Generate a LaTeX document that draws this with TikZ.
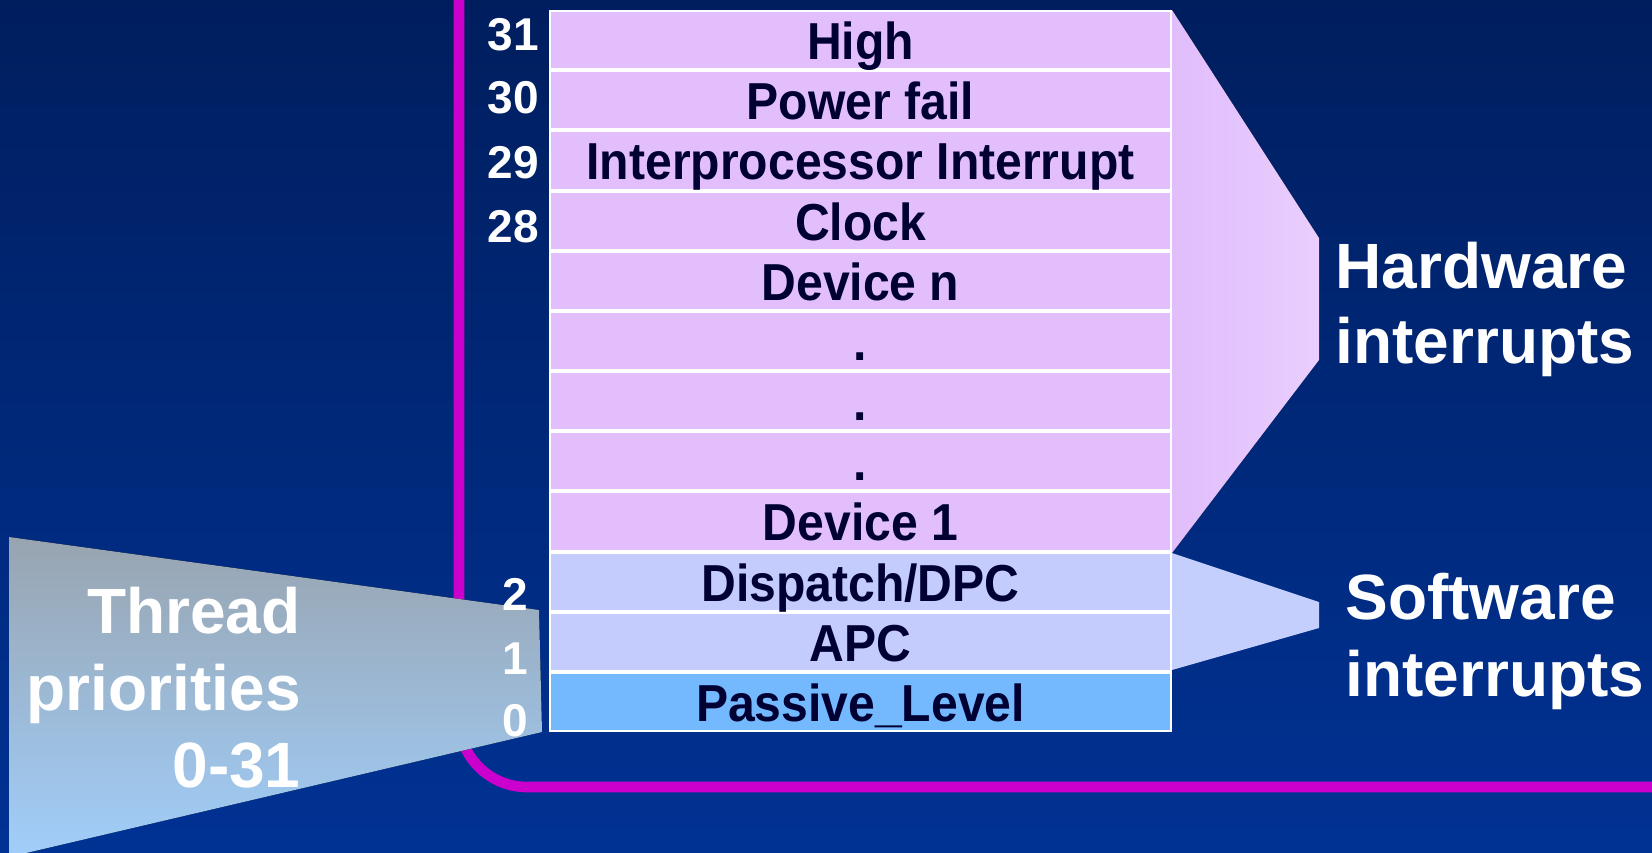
\documentclass[tikz,border=0pt]{standalone}
\usepackage{fontspec}
\setmainfont{Liberation Sans}
\newfontfamily\cellfont{Liberation Sans}[FakeStretch=0.925]
\definecolor{bgtop}{RGB}{0,30,94}
\definecolor{bgbot}{RGB}{0,50,148}
\definecolor{mag}{RGB}{204,0,204}
\definecolor{hwcell}{RGB}{227,190,253}
\definecolor{hwpolyL}{RGB}{225,189,252}
\definecolor{hwpolyR}{RGB}{233,206,254}
\definecolor{swcell}{RGB}{196,204,254}
\definecolor{swpoly}{RGB}{197,207,254}
\definecolor{pcell}{RGB}{116,185,253}
\definecolor{celltext}{RGB}{0,0,51}
\definecolor{thtop}{RGB}{152,164,176}
\definecolor{thbot}{RGB}{160,206,250}
\begin{document}
\begin{tikzpicture}[x=0.5pt,y=-0.5pt,
  cell/.style={inner sep=0pt, minimum width=309.5pt, minimum height=28.08pt,
    text height=19.5pt, text depth=0pt, text=celltext,
    font=\cellfont\bfseries\fontsize{26}{31}\selectfont},
  num/.style={inner sep=0pt, anchor=base east, text=white,
    font=\bfseries\fontsize{23}{27}\selectfont},
  big/.style={inner sep=0pt, text=white,
    font=\bfseries\fontsize{32}{38}\selectfont},
]
\useasboundingbox (0,0) rectangle (1652,852);
% background
\fill[top color=bgtop, bottom color=bgbot] (0,0) rectangle (1652,852);
% magenta frame
\draw[mag, line width=5.3pt, rounded corners=34pt] (459,-200) rectangle (1720,787);
% thread priorities wedge
\fill[top color=thtop, bottom color=thbot] (9,537) -- (539,610) -- (542,732) -- (9,857) -- cycle;
% hardware / software wedges
\fill[left color=hwpolyL, right color=hwpolyR] (1172,10) -- (1319,238) -- (1319,360) -- (1172,553) -- cycle;
\fill[swpoly] (1172,553) -- (1319,602) -- (1319,628) -- (1172,670) -- cycle;
% table
\node[fill=white, inner sep=0pt, minimum width=311.5pt, minimum height=361pt] (tab) at (860.5,371) {};
\foreach \i/\t/\c in {0/High/hwcell, 1/Power fail/hwcell, 2/Interprocessor Interrupt/hwcell,
  3/Clock/hwcell, 4/Device n/hwcell, 5/./hwcell, 6/./hwcell, 7/./hwcell, 8/Device 1/hwcell,
  9/{Dispatch/DPC}/swcell, 10/APC/swcell, 11/Passive\_Level/pcell}{
  \pgfmathsetmacro\cy{40.08+60.17*\i}
  \node[cell, fill=\c] (c\i) at (860.5,\cy) {\t};
}
% level numbers
\node[num] (n31) at (539,50) {31};
\node[num] (n30) at (539,113) {30};
\node[num] (n29) at (539,178) {29};
\node[num] (n28) at (539,242) {28};
\node[num] (n2) at (528,610) {2};
\node[num] (n1) at (528,674) {1};
\node[num] (n0) at (528,736) {0};
% big labels
\node[big, anchor=base west] (hw1) at (1335,288) {Hardware};
\node[big, anchor=base west] (hw2) at (1335,363) {interrupts};
\node[big, anchor=base west] (sw1) at (1345,619) {Software};
\node[big, anchor=base west] (sw2) at (1345,696) {interrupts};
\node[big, anchor=base east] (th1) at (301,633) {Thread};
\node[big, anchor=base east] (th2) at (301,710) {priorities};
\node[big, anchor=base east] (th3) at (301,787) {0-31};
\end{tikzpicture}
\end{document}
